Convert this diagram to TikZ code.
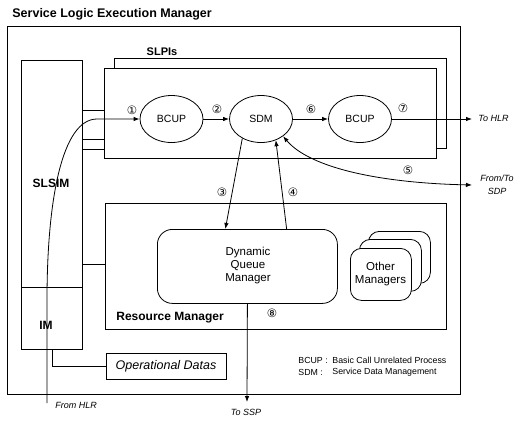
\documentclass[tikz,border=0pt]{standalone}
\usepackage{fontspec}
\setmainfont{Liberation Sans}
\newfontfamily\symfont{DejaVu Sans}
\usetikzlibrary{arrows.meta,shapes.geometric,calc}
\begin{document}
\begin{tikzpicture}[x=1pt,y=-1pt,line width=0.8pt,
  box/.style={draw,line width=0.8pt,inner sep=0pt,anchor=north west,fill=white},
  rbox/.style={draw,line width=0.8pt,inner sep=0pt,anchor=north west,fill=white,rounded corners=11pt},
  ell/.style={draw,ellipse,minimum width=63pt,minimum height=47pt,inner sep=0pt,fill=white,font=\fontsize{10.5}{12}\selectfont},
  blbl/.style={font=\bfseries\fontsize{12}{14}\selectfont,inner sep=0pt},
  reg/.style={font=\fontsize{11.5}{13}\selectfont,inner sep=0pt,align=center},
  num/.style={font=\symfont\fontsize{11.5}{12}\selectfont,inner sep=0pt},
  ital/.style={font=\itshape\fontsize{9}{12.5}\selectfont,inner sep=0pt},
  leg/.style={font=\fontsize{8.8}{11}\selectfont,inner sep=0pt,anchor=west},
  arr/.style={-{Latex[length=6pt,width=4.5pt]}},
  darr/.style={{Latex[length=6pt,width=4.5pt]}-{Latex[length=6pt,width=4.5pt]}}]
\useasboundingbox (0,0) rectangle (518,421);
% title
\node[blbl,font=\bfseries\fontsize{12.5}{14}\selectfont,anchor=west] (title) at (12,14) {Service Logic Execution Manager};
% outer box
\node[box,minimum width=453pt,minimum height=368pt] (outer) at (7,26) {};
% SLSIM and IM
\node[box,minimum width=61pt,minimum height=227pt] (slsim) at (21,60) {};
\node[blbl] (slsimt) at (51,183) {SLSIM};
\node[box,minimum width=61pt,minimum height=62pt] (im) at (21,287) {};
\node[blbl] (imt) at (46,325) {IM};
% SLPIs
\node[box,minimum width=332pt,minimum height=90pt] (slpiback) at (114,58) {};
\node[box,minimum width=332pt,minimum height=90pt] (slpi) at (104,68) {};
\node[blbl,font=\bfseries\fontsize{11}{13}\selectfont] (slpit) at (162,52) {SLPIs};
% Resource manager
\node[box,minimum width=341pt,minimum height=126pt] (rm) at (105,203) {};
\node[blbl,anchor=west] (rmt) at (116,318) {Resource Manager};
\node[rbox,minimum width=180pt,minimum height=74pt,rounded corners=15pt] (dqm) at (157,229) {};
\node[reg] (dqmt) at (248,266) {Dynamic\\Queue\\Manager};
\node[rbox,minimum width=62pt,minimum height=52pt] (om3) at (368,231) {};
\node[rbox,minimum width=62pt,minimum height=52pt] (om2) at (359,239) {};
\node[rbox,minimum width=61pt,minimum height=52pt] (om1) at (350,248) {};
\node[reg] (omt) at (380.5,274) {Other\\Managers};
% operational datas
\node[box,minimum width=120pt,minimum height=26pt,anchor=center,font=\itshape\fontsize{12.5}{14}\selectfont] (opdata) at (166,366) {Operational Datas};
% ellipses
\node[ell] (b1) at (171.5,119) {BCUP};
\node[ell] (sdm) at (261,119) {SDM};
\node[ell] (b2) at (360,119) {BCUP};
% connectors SLSIM -> SLPI, RM
\coordinate (ya) at (0,110);
\coordinate (yb) at (0,139);
\coordinate (yc) at (0,149);
\coordinate (yd) at (0,264);
\draw (slsim.east |- ya) -- (slpi.west |- ya);
\draw (slsim.east |- yb) -- (slpi.west |- yb);
\draw (slsim.east |- yc) -- (slpi.west |- yc);
\draw (slsim.east |- yd) -- (rm.west |- yd);
\draw (im.south) |- (opdata.west);
% From HLR
\coordinate (fromhlr) at (47,403);
\node[ital,anchor=west] (fromhlrt) at (55,405) {From HLR};
\draw[arr] (fromhlr) -- (47,300) .. controls (47,200) and (62,119) .. (97,119) -- (b1.west);
% chain
\draw[arr] (b1) -- (sdm);
\draw[arr] (sdm) -- (b2);
\coordinate (tohlr) at (472,119);
\draw[arr] (b2.east) -- (tohlr);
\node[ital,anchor=west] (tohlrt) at (478,118) {To HLR};
% 3 and 4
\draw[arr] (sdm.-134) -- ($(dqm.north west)!0.378!(dqm.north east)$);
\draw[arr] ($(dqm.north west)!0.717!(dqm.north east)$) -- (sdm.-55);
% 5
\coordinate (sdp) at (472,185);
\draw[darr] (sdm.-38) .. controls (310,168) and (380,183) .. (sdp);
\node[ital,align=center] (sdpt) at (497,185) {From/To\\SDP};
% 8 to SSP
\coordinate (tossp) at (247,402);
\draw[arr] (dqm.south) -- (tossp);
\node[ital] (tosspt) at (246,412) {To SSP};
% numbers
\node[num] (n1) at (132,110) {①};
\node[num] (n2) at (217,109) {②};
\node[num] (n6) at (311,109) {⑥};
\node[num] (n7) at (403,108) {⑦};
\node[num] (n3) at (222,192) {③};
\node[num] (n4) at (293,192) {④};
\node[num] (n5) at (408,170) {⑤};
\node[num] (n8) at (272,313) {⑧};
% legend
\node[leg] (l1) at (298,360) {BCUP :};
\node[leg] (l2) at (298,372) {SDM :};
\node[leg] (l3) at (332,360) {Basic Call Unrelated Process};
\node[leg] (l4) at (332,372) {Service Data Management};
\end{tikzpicture}
\end{document}
